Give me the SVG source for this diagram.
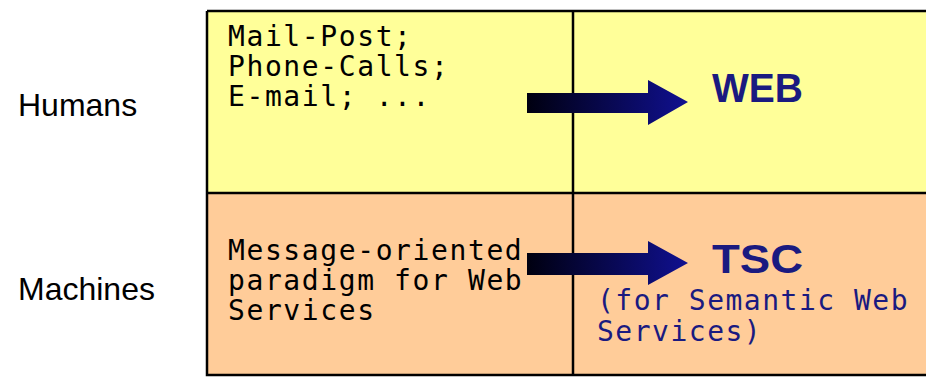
<svg xmlns="http://www.w3.org/2000/svg" width="926" height="377" viewBox="0 0 926 377">
<style>
.label{font-family:"Liberation Sans",Arial,sans-serif;font-size:32px;fill:#000}
.mono{font-family:"DejaVu Sans Mono","Liberation Mono",monospace;font-size:28px;letter-spacing:1.6px;fill:#000}
.monob{font-family:"DejaVu Sans Mono","Liberation Mono",monospace;font-size:28px;letter-spacing:1.5px;fill:#1a1a80}
.big{font-family:"Liberation Sans",Arial,sans-serif;font-size:40px;font-weight:bold;fill:#1a1a80}
.grid{stroke:#000;stroke-width:2.5;fill:none}
</style>
<defs>
<linearGradient id="ag" x1="0" y1="0" x2="1" y2="0">
<stop offset="0" stop-color="#000010"/>
<stop offset="1" stop-color="#101090"/>
</linearGradient>
</defs>
<rect x="0" y="0" width="926" height="377" fill="#fff"/>
<g id="humans-label"><text class="label" x="18" y="116">Humans</text></g>
<g id="machines-label"><text class="label" x="18" y="300">Machines</text></g>
<g id="cell-humans-before">
<rect x="207" y="11" width="366" height="182" fill="#ffff99"/>
<text class="mono" x="228" y="46">Mail-Post;</text>
<text class="mono" x="228" y="76">Phone-Calls;</text>
<text class="mono" x="228" y="106">E-mail; ...</text>
</g>
<g id="cell-web">
<rect x="573" y="11" width="353" height="182" fill="#ffff99"/>
<text class="big" x="712" y="102" textLength="91" lengthAdjust="spacingAndGlyphs">WEB</text>
</g>
<g id="cell-machines-before">
<rect x="207" y="193" width="366" height="182" fill="#ffcc99"/>
<text class="mono" x="228" y="260">Message-oriented</text>
<text class="mono" x="228" y="290">paradigm for Web</text>
<text class="mono" x="228" y="320">Services</text>
</g>
<g id="cell-tsc">
<rect x="573" y="193" width="353" height="182" fill="#ffcc99"/>
<text class="big" x="712" y="273" textLength="91" lengthAdjust="spacingAndGlyphs">TSC</text>
<text class="monob" x="597" y="310">(for Semantic Web</text>
<text class="monob" x="597" y="341">Services)</text>
</g>
<g id="grid">
<path class="grid" d="M207,11 H926 M207,11 V375 H926 M207,193 H926 M573,11 V375"/>
</g>
<g id="connectors">
<polygon fill="url(#ag)" points="527,93 648,93 648,80 688,102 648,125 648,113 527,113"/>
<polygon fill="url(#ag)" points="527,253 648,253 648,241 688,263 648,285 648,275 527,275"/>
</g>
</svg>
